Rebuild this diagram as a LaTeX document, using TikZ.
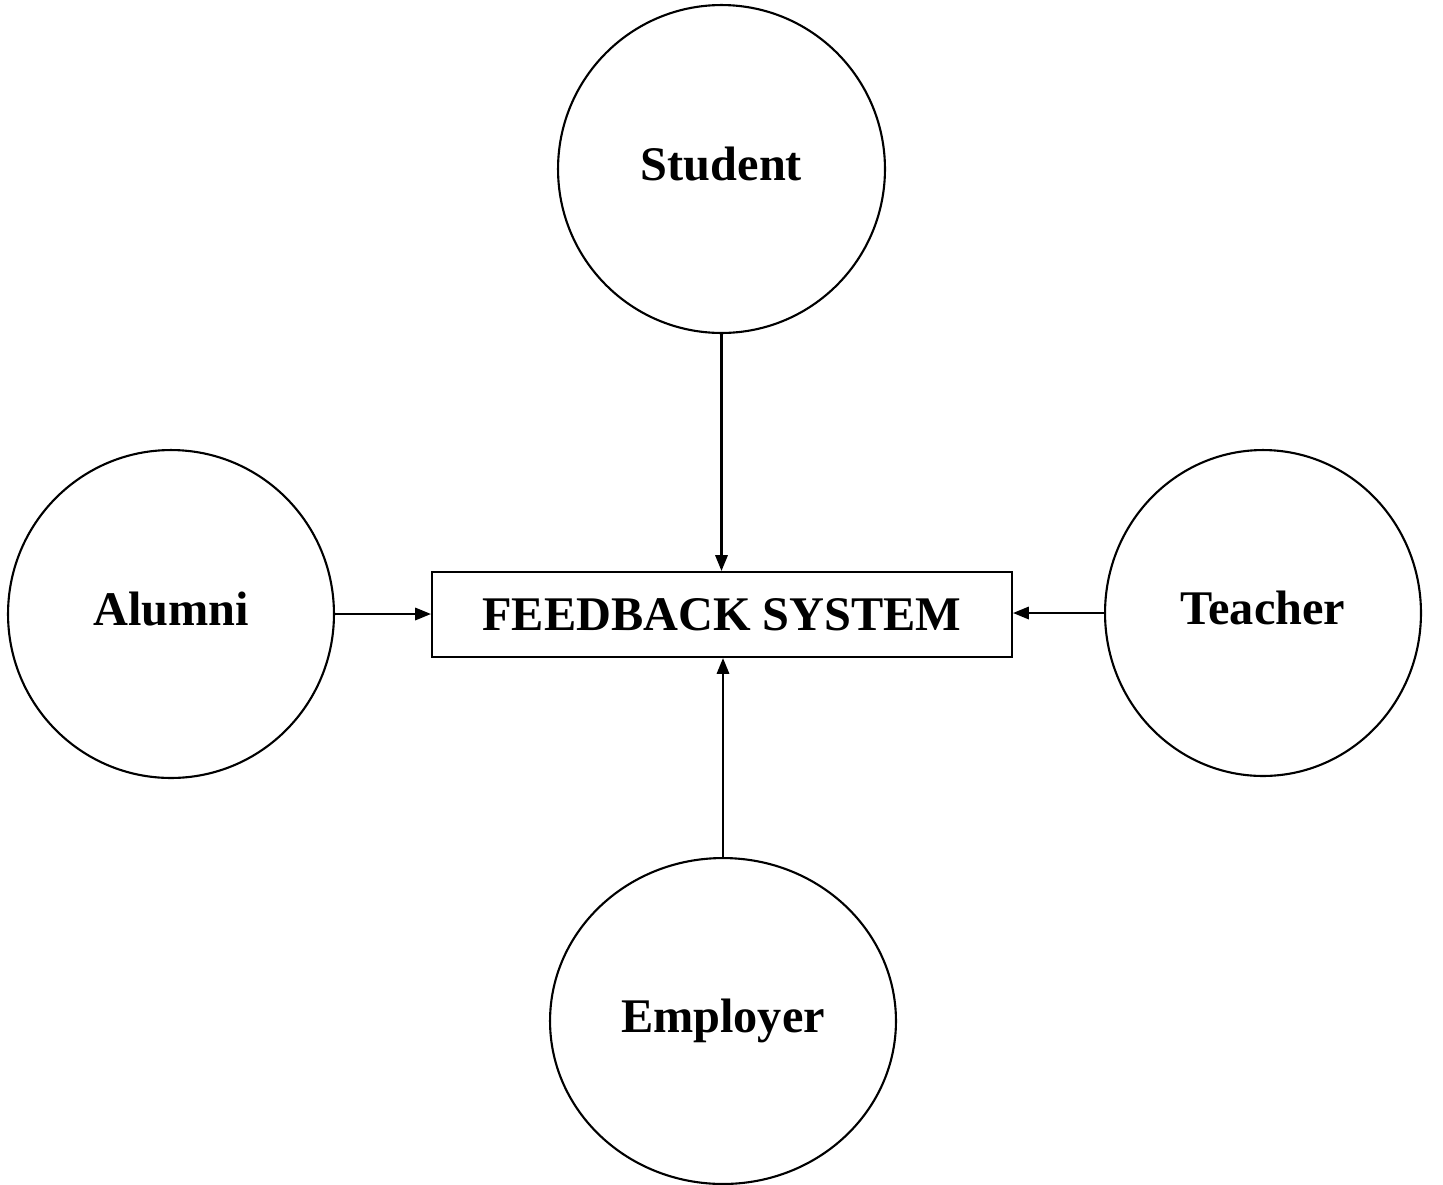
\documentclass[tikz,border=0pt]{standalone}
\usepackage{fontspec}
\setmainfont{Liberation Serif}
\usetikzlibrary{shapes.geometric,arrows.meta}
\begin{document}
\begin{tikzpicture}[x=0.02cm,y=-0.02cm,
  party/.style={draw,ellipse,line width=1.2pt,inner sep=0pt,
    font=\fontsize{27.5}{33}\selectfont\bfseries,text depth=0.65em},
  sysbox/.style={draw,rectangle,line width=1.2pt,minimum width=11.6cm,minimum height=1.7cm,
    font=\fontsize{27.5}{33}\selectfont\bfseries},
  feed/.style={line width=1.3pt,-{Triangle[length=9pt,width=7pt]}}]
% frame
\useasboundingbox (0,0) rectangle (1443,1184);

% feedback system box
\node[sysbox] (fs) at (722,614.5) {FEEDBACK SYSTEM};

% stakeholders
\node[party,minimum width=6.54cm,minimum height=6.56cm] (student) at (721.5,169) {Student};
\node[party,minimum width=6.52cm,minimum height=6.56cm] (alumni) at (171,614) {Alumni};
\node[party,minimum width=6.32cm,minimum height=6.52cm] (teacher) at (1263,613) {Teacher};
\node[party,minimum width=6.92cm,minimum height=6.52cm] (employer) at (723,1021) {Employer};

% connectors
\draw[feed] (student.south) -- (student.south |- fs.north);
\draw[feed] (employer.north) -- (employer.north |- fs.south);
\draw[feed] (alumni.east) -- (alumni.east -| fs.west);
\draw[feed] (teacher.west) -- (teacher.west -| fs.east);
\end{tikzpicture}
\end{document}
